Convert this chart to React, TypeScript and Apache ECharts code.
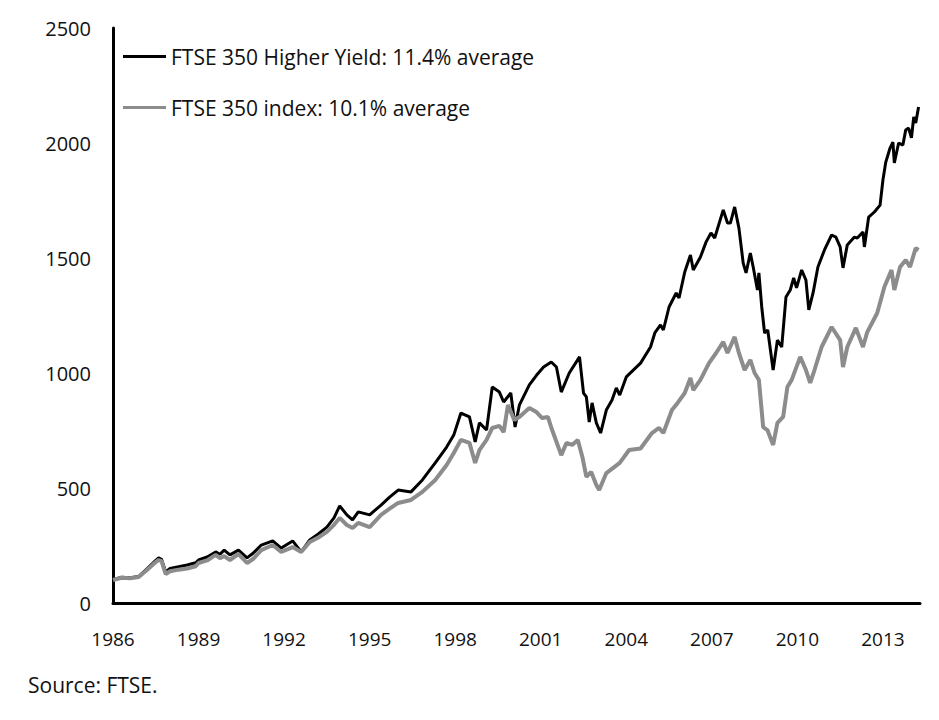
import React, { useEffect, useRef } from "react";
import * as echarts from "echarts";

// FTSE 350 Higher Yield (black)
const hyDates = [
  1986.0, 1986.3, 1986.6, 1986.9, 1987.2, 1987.5, 1987.6, 1987.7, 1987.85, 1988.0,
  1988.3, 1988.6, 1988.9, 1989.0, 1989.3, 1989.6, 1989.75, 1989.9, 1990.1, 1990.4,
  1990.7, 1990.9, 1991.2, 1991.6, 1991.9, 1992.3, 1992.6, 1992.9, 1993.2, 1993.5,
  1993.75, 1993.95, 1994.2, 1994.4, 1994.6, 1995.0, 1995.4, 1995.7, 1996.0, 1996.45,
  1996.85, 1997.3, 1997.7, 1997.95, 1998.2, 1998.5, 1998.7, 1998.85, 1999.1, 1999.3,
  1999.55, 1999.7, 1999.95, 2000.1, 2000.25, 2000.6, 2000.85, 2001.1, 2001.37, 2001.55,
  2001.72, 2002.0, 2002.36, 2002.5, 2002.6, 2002.7, 2002.8, 2002.95, 2003.1, 2003.3,
  2003.5, 2003.65, 2003.77, 2004.0, 2004.5, 2004.85, 2005.0, 2005.2, 2005.3, 2005.5,
  2005.75, 2005.85, 2006.05, 2006.25, 2006.35, 2006.6, 2006.8, 2006.97, 2007.1, 2007.4,
  2007.55, 2007.65, 2007.8, 2007.95, 2008.1, 2008.2, 2008.35, 2008.45, 2008.6, 2008.65,
  2008.75, 2008.85, 2008.96, 2009.15, 2009.3, 2009.45, 2009.6, 2009.75, 2009.87, 2009.97,
  2010.15, 2010.3, 2010.4, 2010.55, 2010.72, 2010.95, 2011.2, 2011.35, 2011.5, 2011.6,
  2011.75, 2012.0, 2012.1, 2012.3, 2012.35, 2012.5, 2012.7, 2012.9, 2013.0, 2013.1,
  2013.25, 2013.35, 2013.4, 2013.55, 2013.7, 2013.8, 2013.9, 2014.0, 2014.08, 2014.15,
  2014.25,
];
const hyValues = [
  100, 112, 110, 115, 150, 185, 196, 190, 135, 150,
  158, 165, 175, 187, 200, 222, 212, 230, 209, 230,
  196, 215, 252, 270, 239, 270, 222, 274, 300, 330,
  370, 422, 383, 361, 396, 383, 426, 460, 491, 483,
  535, 609, 678, 730, 826, 809, 700, 783, 752, 939,
  917, 874, 913, 765, 860, 948, 990, 1026, 1048, 1026,
  917, 1000, 1070, 913, 896, 787, 870, 783, 739, 839,
  883, 935, 904, 983, 1043, 1113, 1174, 1209, 1187, 1287,
  1348, 1326, 1439, 1513, 1448, 1504, 1570, 1609, 1587, 1709,
  1652, 1652, 1722, 1630, 1478, 1435, 1522, 1461, 1361, 1435,
  1287, 1174, 1187, 1013, 1143, 1113, 1330, 1361, 1413, 1370,
  1448, 1404, 1274, 1348, 1461, 1535, 1600, 1591, 1548, 1457,
  1557, 1591, 1587, 1613, 1548, 1678, 1700, 1730, 1839, 1917,
  1978, 2004, 1913, 2000, 1991, 2057, 2065, 2022, 2113, 2087,
  2157,
];

// FTSE 350 index (grey)
const idxDates = [
  1986.0, 1986.3, 1986.6, 1986.9, 1987.2, 1987.5, 1987.6, 1987.7, 1987.85, 1988.0,
  1988.3, 1988.6, 1988.9, 1989.0, 1989.3, 1989.6, 1989.75, 1989.9, 1990.1, 1990.4,
  1990.7, 1990.9, 1991.2, 1991.6, 1991.9, 1992.3, 1992.6, 1992.9, 1993.2, 1993.5,
  1993.75, 1993.95, 1994.2, 1994.4, 1994.6, 1995.0, 1995.4, 1995.7, 1996.0, 1996.45,
  1996.85, 1997.3, 1997.7, 1997.95, 1998.2, 1998.5, 1998.7, 1998.85, 1999.1, 1999.3,
  1999.55, 1999.7, 1999.85, 2000.07, 2000.25, 2000.6, 2000.85, 2001.05, 2001.25, 2001.4,
  2001.72, 2001.9, 2002.1, 2002.3, 2002.46, 2002.6, 2002.77, 2002.95, 2003.05, 2003.3,
  2003.77, 2004.1, 2004.5, 2004.9, 2005.15, 2005.3, 2005.6, 2005.8, 2006.05, 2006.25,
  2006.35, 2006.6, 2006.9, 2007.15, 2007.4, 2007.55, 2007.8, 2007.95, 2008.15, 2008.35,
  2008.5, 2008.65, 2008.8, 2008.95, 2009.15, 2009.3, 2009.5, 2009.65, 2009.8, 2010.1,
  2010.3, 2010.45, 2010.6, 2010.85, 2011.2, 2011.5, 2011.6, 2011.75, 2012.05, 2012.3,
  2012.45, 2012.8, 2013.05, 2013.3, 2013.4, 2013.6, 2013.8, 2013.95, 2014.15, 2014.25,
];
const idxValues = [
  100, 110, 108, 113, 145, 178, 187, 182, 126, 138,
  145, 150, 160, 174, 185, 209, 195, 204, 187, 213,
  174, 190, 230, 252, 222, 243, 222, 265, 285, 309,
  340, 370, 339, 326, 348, 330, 383, 410, 435, 448,
  483, 535, 600, 652, 709, 696, 609, 665, 709, 761,
  770, 743, 861, 796, 809, 848, 830, 804, 809, 752,
  643, 696, 687, 709, 635, 548, 570, 513, 491, 565,
  609, 665, 672, 739, 761, 739, 839, 870, 913, 978,
  926, 970, 1043, 1087, 1135, 1087, 1157, 1087, 1013, 1057,
  1000, 970, 765, 752, 687, 783, 809, 939, 970, 1070,
  1013, 957, 1013, 1113, 1200, 1143, 1026, 1113, 1196, 1113,
  1178, 1261, 1374, 1448, 1361, 1461, 1491, 1461, 1543, 1535,
];

const seriesNames = [
  "FTSE 350 Higher Yield: 11.4% average",
  "FTSE 350 index: 10.1% average",
];
const yTicks = [0, 500, 1000, 1500, 2000, 2500];
const xTickYears = [1986, 1989, 1992, 1995, 1998, 2001, 2004, 2007, 2010, 2013];
const sourceText = "Source: FTSE.";

const FONT = "'Open Sans', 'DejaVu Sans', sans-serif";

export default function App() {
  const ref = useRef<HTMLDivElement>(null);
  useEffect(() => {
    if (!ref.current) return;
    const chart = echarts.init(ref.current, null, { renderer: "svg" });
    const hyData = hyDates.map((t, i) => [t, hyValues[i]]);
    const idxData = idxDates.map((t, i) => [t, idxValues[i]]);
    const legendBase = {
      left: 123,
      padding: 0,
      icon: "rect",
      itemWidth: 43,
      itemHeight: 3,
      textStyle: { fontFamily: FONT, fontSize: 21, color: "#111" },
      selectedMode: false,
    };
    chart.setOption({
      animation: false,
      backgroundColor: "#ffffff",
      grid: { left: 113, right: 19, top: 28, bottom: 117, containLabel: false },
      legend: [
        { ...legendBase, data: [seriesNames[0]], top: 46 },
        { ...legendBase, data: [seriesNames[1]], top: 97 },
      ],
      xAxis: {
        type: "value",
        min: xTickYears[0],
        max: 2014.3,
        interval: 3,
        axisLine: { show: true, onZero: false, lineStyle: { color: "#000", width: 3 } },
        axisTick: { show: false },
        splitLine: { show: false },
        axisLabel: {
          showMaxLabel: false,
          margin: 26,
          fontFamily: FONT,
          fontSize: 19,
          color: "#111",
          formatter: (v: number) => (xTickYears.includes(Math.round(v)) ? String(Math.round(v)) : ""),
        },
      },
      yAxis: {
        type: "value",
        min: yTicks[0],
        max: yTicks[yTicks.length - 1],
        interval: 500,
        axisLine: { show: true, lineStyle: { color: "#000", width: 3 } },
        axisTick: { show: false },
        splitLine: { show: false },
        axisLabel: {
          margin: 22,
          fontFamily: FONT,
          fontSize: 20,
          color: "#111",
          formatter: (v: number) => String(v),
        },
      },
      graphic: [
        {
          type: "text",
          left: 28,
          top: 674,
          style: { text: sourceText, fontFamily: FONT, fontSize: 21, fill: "#111" },
        },
      ],
      series: [
        {
          name: seriesNames[0],
          type: "line",
          data: hyData,
          showSymbol: false,
          symbol: "none",
          lineStyle: { color: "#000", width: 3 },
          itemStyle: { color: "#000" },
          z: 2,
        },
        {
          name: seriesNames[1],
          type: "line",
          data: idxData,
          showSymbol: false,
          symbol: "none",
          lineStyle: { color: "#8c8c8c", width: 4 },
          itemStyle: { color: "#8c8c8c" },
          z: 3,
        },
      ],
    });
    return () => chart.dispose();
  }, []);
  return (
    <div
      ref={ref}
      style={{ position: "fixed", left: 0, top: 0, width: 939, height: 720, background: "#fff" }}
    />
  );
}
